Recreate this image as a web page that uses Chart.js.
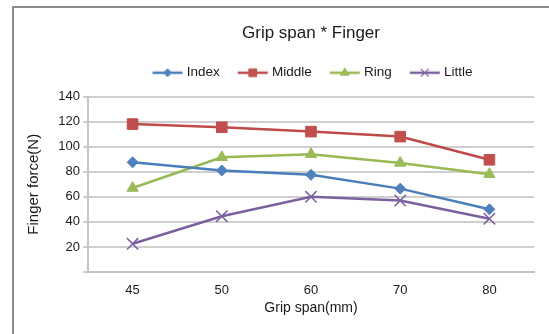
<!DOCTYPE html>
<html>
<head>
<meta charset="utf-8">
<title>Grip span * Finger</title>
<script src="https://cdn.jsdelivr.net/npm/chart.js@4/dist/chart.umd.min.js"></script>
<style>
  html, body { margin: 0; padding: 0; background: #ffffff; overflow: hidden; }
  #wrap { position: relative; width: 549px; height: 334px; overflow: hidden; }
  .rule { position: absolute; background: #8c8c8c; }
  #ruleTop { left: 12px; top: 6px; width: 537px; height: 2px; }
  #ruleLeft { left: 12px; top: 6px; width: 2px; height: 328px; }
  #chart { position: absolute; left: 0; top: 0; }
</style>
</head>
<body>
<div id="wrap">
  <div class="rule" id="ruleTop"></div>
  <div class="rule" id="ruleLeft"></div>
  <canvas id="chart" width="549" height="334"></canvas>
</div>
<script>
// Grip span (mm) categories and mean finger force (N) per finger
const categories = ['45', '50', '60', '70', '80'];
const indexForce  = [87.5, 81, 77.5, 66.5, 50];
const middleForce = [118, 115.5, 112, 108, 89.5];
const ringForce   = [67, 91.5, 94, 87, 78];
const littleForce = [22.5, 44.5, 60, 57, 42.5];
const seriesNames = ['Index', 'Middle', 'Ring', 'Little'];
const yTickMax = 140;
const yTickStep = 20;

const FONT = "'Liberation Sans', Arial, sans-serif";
const TEXT = '#1a1a1a';

const styles = [
  { line: '#4a7ebb', fill: '#4f81bd', point: 'rectRot',  radius: 5.5, bw: 1,   legendRadius: 4 },
  { line: '#be4b48', fill: '#c0504d', point: 'rect',     radius: 7.5, bw: 1,   legendRadius: 5.5 },
  { line: '#98b954', fill: '#9bbb59', point: 'triangle', radius: 6.5, bw: 1,   legendRadius: 5 },
  { line: '#7d60a0', fill: '#8064a2', point: 'crossRot', radius: 8,   bw: 1.5, legendRadius: 5.5 }
];
const seriesValues = [indexForce, middleForce, ringForce, littleForce];

// Legend symbol: a short line segment with the series marker in its middle
function legendIcon(s) {
  const c = document.createElement('canvas');
  c.width = 40; c.height = 14;
  const g = c.getContext('2d');
  g.strokeStyle = s.line;
  g.lineWidth = 2.5;
  g.beginPath();
  g.moveTo(6.75, 7);
  g.lineTo(36.75, 7);
  g.stroke();
  g.fillStyle = s.fill;
  g.strokeStyle = s.point === 'crossRot' ? s.line : s.fill;
  g.lineWidth = s.point === 'crossRot' ? 1.2 : 1;
  Chart.helpers.drawPoint(g, { pointStyle: s.point, radius: s.legendRadius, borderWidth: g.lineWidth, rotation: 0 }, 21.75, 7);
  return c;
}
const icons = styles.map(legendIcon);

// Moves the title and legend so they sit centred over the framed area
const headerOffset = {
  id: 'headerOffset',
  afterLayout(chart, args, opts) {
    const t = chart.titleBlock;
    if (t) { t.left += opts.titleDx; t.right += opts.titleDx; }
    const l = chart.legend;
    if (l) {
      l.left += opts.legendDx; l.right += opts.legendDx;
      l.top += opts.legendDy; l.bottom += opts.legendDy;
    }
  }
};

const datasets = seriesNames.map((name, i) => ({
  label: name,
  data: seriesValues[i],
  borderColor: styles[i].line,
  backgroundColor: styles[i].fill,
  borderWidth: 2.5,
  tension: 0,
  fill: false,
  pointStyle: styles[i].point,
  pointRadius: styles[i].radius,
  pointHoverRadius: styles[i].radius,
  pointBackgroundColor: styles[i].fill,
  pointBorderColor: styles[i].point === 'crossRot' ? styles[i].line : styles[i].fill,
  pointBorderWidth: styles[i].bw
}));

new Chart(document.getElementById('chart'), {
  type: 'line',
  data: { labels: categories, datasets },
  plugins: [headerOffset],
  options: {
    responsive: false,
    animation: false,
    devicePixelRatio: 1,
    layout: { padding: { left: 0, right: 15, top: 0, bottom: 0 } },
    plugins: {
      headerOffset: { titleDx: 44, legendDx: 45, legendDy: -7 },
      title: {
        display: true,
        text: 'Grip span * Finger',
        color: TEXT,
        font: { family: FONT, size: 17, weight: 'normal' },
        padding: { top: 23, bottom: 12.6 }
      },
      legend: {
        display: true,
        position: 'top',
        labels: {
          usePointStyle: true,
          pointStyleWidth: 28.5,
          padding: 17,
          color: TEXT,
          font: { family: FONT, size: 13.5 },
          generateLabels(chart) {
            return chart.data.datasets.map((ds, i) => ({
              text: ds.label,
              pointStyle: icons[i],
              fillStyle: ds.backgroundColor,
              strokeStyle: ds.borderColor,
              lineWidth: 0,
              fontColor: TEXT,
              hidden: false,
              datasetIndex: i
            }));
          }
        }
      },
      tooltip: { enabled: false }
    },
    scales: {
      x: {
        offset: true,
        grid: { display: false, drawTicks: false },
        border: { display: true, color: '#c4c4c4', width: 2 },
        ticks: { color: TEXT, font: { family: FONT, size: 13 }, padding: 11 },
        title: {
          display: true,
          text: 'Grip span(mm)',
          color: TEXT,
          font: { family: FONT, size: 14 },
          padding: { top: 0, bottom: 17.6 }
        },
        afterFit(scale) { scale.height = 62; }
      },
      y: {
        min: 0,
        max: yTickMax,
        grid: { color: '#cfcfcf', lineWidth: 2, tickLength: 5, drawTicks: true },
        border: { display: true, color: '#c4c4c4', width: 2 },
        ticks: {
          stepSize: yTickStep,
          padding: 3,
          color: TEXT,
          font: { family: FONT, size: 13 },
          callback: (v) => (v === 0 ? '' : v)
        },
        title: {
          display: true,
          text: 'Finger force(N)',
          color: TEXT,
          font: { family: FONT, size: 15 },
          padding: { top: 25, bottom: 0 }
        },
        afterFit(scale) { scale.width = 88; }
      }
    }
  }
});
</script>
</body>
</html>
